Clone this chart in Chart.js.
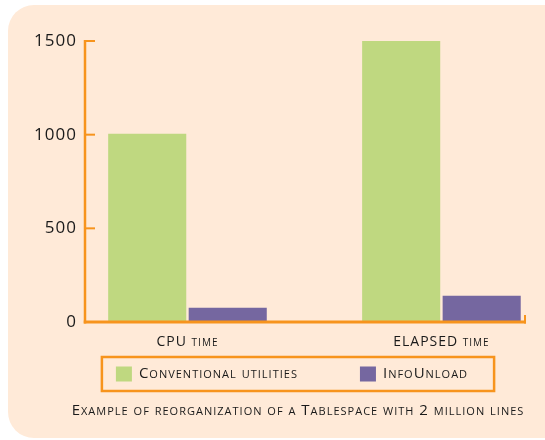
<!DOCTYPE html>
<html>
<head>
<meta charset="utf-8">
<script src="https://cdn.jsdelivr.net/npm/chart.js@4/dist/chart.umd.min.js"></script>
<style>
html, body { margin:0; padding:0; background:#ffffff; }
body { width:545px; height:440px; position:relative; overflow:hidden; }
.panel { position:absolute; left:8px; top:5px; width:570px; height:433px; border-radius:26px; background:#ffead8; }
#chart { position:absolute; left:0; top:0; }
</style>
</head>
<body>
<div class="panel"></div>
<canvas id="chart" width="545" height="440"></canvas>
<script>
/*
  data
*/
const categories = ["CPU time", "ELAPSED time"];
const seriesNames = ["Conventional utilities", "InfoUnload"];
const conventional = [1005, 1500];
const infoUnload = [76, 140];
const yTicks = [0, 500, 1000, 1500];
const caption = "Example of reorganization of a Tablespace with 2 million lines";

const ORANGE = "#f7941d";
const GREEN = "#bfd880";
const PURPLE = "#7567a0";
const TEXT = "#1a1a1a";
const FAMILY = "'Open Sans', 'Noto Sans', sans-serif";

function toPoints(values){
    return values.map((v, i) => ({ x: i, y: v }));
}

/*
  slightly tracked lettering everywhere
*/
const tracking = {
    id: "tracking",
    beforeUpdate(chart){
        chart.ctx.letterSpacing = "1px";
    },
    beforeDraw(chart){
        chart.ctx.letterSpacing = "1px";
    }
};

/*
  orange axes, ticks pointing inward
*/
const orangeAxes = {
    id: "orangeAxes",
    afterDatasetsDraw(chart){
        const { ctx, chartArea: a, scales: { y } } = chart;
        const base = y.getPixelForValue(0);
        ctx.save();
        ctx.strokeStyle = ORANGE;

        ctx.lineWidth = 2.5;
        ctx.beginPath();
        ctx.moveTo(a.left, y.getPixelForValue(y.max) - 1);
        ctx.lineTo(a.left, base + 1.5);
        ctx.stroke();

        ctx.lineWidth = 2;
        y.ticks.forEach(t => {
            const py = y.getPixelForValue(t.value);
            ctx.beginPath();
            ctx.moveTo(a.left, py);
            ctx.lineTo(a.left + 10, py);
            ctx.stroke();
        });

        ctx.lineWidth = 3;
        ctx.beginPath();
        ctx.moveTo(a.left - 1.25, base);
        ctx.lineTo(a.right, base);
        ctx.stroke();

        ctx.lineWidth = 2;
        ctx.beginPath();
        ctx.moveTo(a.right - 1, base - 7);
        ctx.lineTo(a.right - 1, base + 1.5);
        ctx.stroke();

        ctx.restore();
    }
};

/*
  legend inside an orange frame
*/
const boxedLegend = {
    id: "boxedLegend",
    afterDraw(chart){
        const ctx = chart.ctx;
        const sets = chart.data.datasets;
        const sw = 16, sh = 15, gap = 7, spacing = 62;

        ctx.save();
        ctx.letterSpacing = "1px";
        ctx.font = "small-caps 15px " + FAMILY;
        const widths = sets.map(d => ctx.measureText(d.label).width);
        const content = widths.reduce((s, w) => s + sw + gap + w, 0) + spacing * (sets.length - 1);
        const boxW = content + 40;
        const boxH = 34;
        const t = chart.titleBlock;
        const left = (t.left + t.right) / 2 - boxW / 2;
        const top = t.top - 5;

        ctx.strokeStyle = ORANGE;
        ctx.lineWidth = 2.5;
        ctx.strokeRect(left, top, boxW, boxH);

        let x = left + 14;
        const cy = top + boxH / 2;
        ctx.textBaseline = "middle";
        ctx.textAlign = "left";
        sets.forEach((d, i) => {
            ctx.fillStyle = d.backgroundColor;
            ctx.fillRect(x, cy - sh / 2, sw, sh);
            ctx.fillStyle = TEXT;
            ctx.fillText(d.label, x + sw + gap, cy);
            x += sw + gap + widths[i] + spacing;
        });
        ctx.restore();
    }
};

const chart = new Chart(document.getElementById("chart"), {
    type: "bar",
    data: {
        datasets: [
            {
                label: seriesNames[0],
                data: toPoints(conventional),
                backgroundColor: GREEN,
                borderWidth: 0
            },
            {
                label: seriesNames[1],
                data: toPoints(infoUnload),
                backgroundColor: PURPLE,
                borderWidth: 0
            }
        ]
    },
    options: {
        responsive: false,
        animation: false,
        devicePixelRatio: 1,
        barPercentage: 0.97,
        categoryPercentage: 0.634,
        layout: {
            padding: { top: 41, right: 19, left: 70, bottom: 20 }
        },
        scales: {
            x: {
                type: "linear",
                offset: false,
                min: -0.4035,
                max: 1.333,
                afterBuildTicks: (scale) => {
                    scale.ticks = categories.map((c, i) => ({ value: i }));
                },
                ticks: {
                    padding: 11,
                    color: TEXT,
                    font: { family: FAMILY, size: 14, lineHeight: 1.2857, weight: "small-caps" },
                    callback: (v) => categories[v]
                },
                grid: { display: false, drawTicks: false },
                border: { display: false }
            },
            y: {
                min: 0,
                max: 1500,
                afterBuildTicks: (scale) => {
                    scale.ticks = yTicks.map(v => ({ value: v }));
                },
                afterFit: (scale) => {
                    scale.width = 15;
                },
                ticks: {
                    mirror: true,
                    crossAlign: "far",
                    padding: -51,
                    color: TEXT,
                    font: { family: FAMILY, size: 17 },
                    callback: (v) => String(v)
                },
                grid: { display: false, drawTicks: false },
                border: { display: false }
            }
        },
        plugins: {
            legend: { display: false },
            tooltip: { enabled: false },
            title: {
                display: true,
                position: "bottom",
                text: caption,
                color: TEXT,
                font: { family: FAMILY, size: 15, weight: "small-caps" },
                padding: { top: 40, bottom: 0 }
            }
        }
    },
    plugins: [tracking, orangeAxes, boxedLegend]
});
</script>
</body>
</html>
